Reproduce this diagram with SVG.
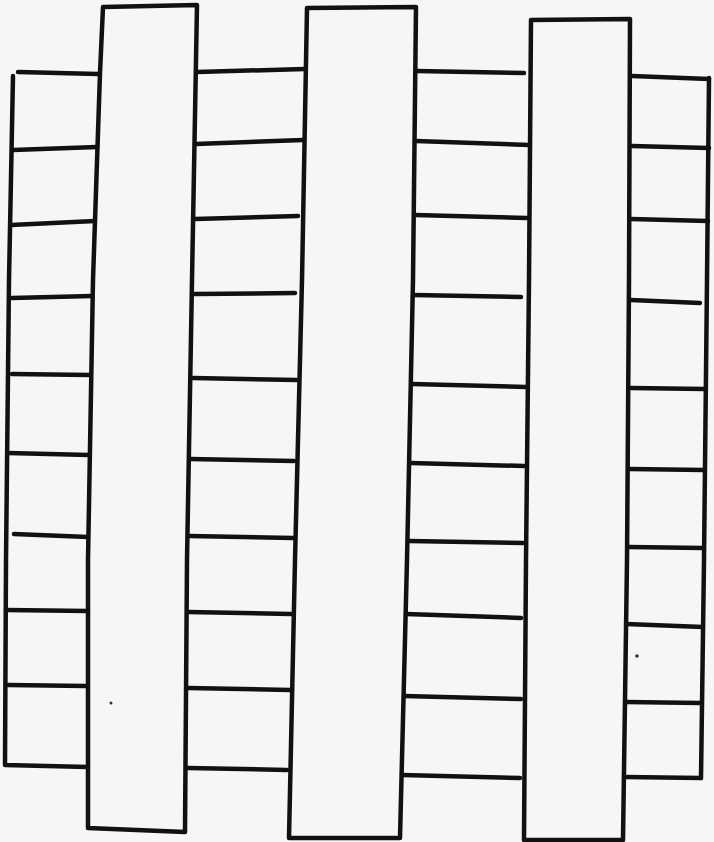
<svg xmlns="http://www.w3.org/2000/svg" width="714" height="842" viewBox="0 0 714 842">
<style>
.s{fill:none;stroke:#111;stroke-width:4.5;stroke-linecap:round;stroke-linejoin:round}
.d{fill:#333}
</style>
<rect width="714" height="842" fill="#f6f6f6"/>
<g id="column1"><polygon class="s" points="103,7 197,5 192,280 187,560 185,832 88,828 88,560 93,280 100,73"/></g>
<g id="column2"><polygon class="s" points="307,8 416,7 413,280 407,560 400,838 289,838 295,560 302,280"/></g>
<g id="column3"><polygon class="s" points="531,20 630,19 629,280 627,560 623,840 524,840 526,560 529,280"/></g>
<g id="ladder-left">
<polyline class="s" points="13,76 9,280 6,560 5,765 88,767"/>
<line class="s" x1="18" y1="72" x2="98" y2="74"/>
<line class="s" x1="13" y1="150" x2="97" y2="147"/>
<line class="s" x1="11" y1="225" x2="95" y2="221"/>
<line class="s" x1="12" y1="298" x2="92" y2="296"/>
<line class="s" x1="12" y1="374" x2="90" y2="375"/>
<line class="s" x1="8" y1="453" x2="89" y2="455"/>
<line class="s" x1="14" y1="534" x2="88" y2="537"/>
<line class="s" x1="6" y1="610" x2="88" y2="611"/>
<line class="s" x1="8" y1="685" x2="86" y2="686"/>
</g>
<g id="ladder-middle">
<line class="s" x1="197" y1="72" x2="305" y2="69"/>
<line class="s" x1="196" y1="144" x2="303" y2="140"/>
<line class="s" x1="195" y1="219" x2="298" y2="216"/>
<line class="s" x1="194" y1="294" x2="295" y2="293"/>
<line class="s" x1="193" y1="378" x2="297" y2="380"/>
<line class="s" x1="190" y1="459" x2="294" y2="461"/>
<line class="s" x1="189" y1="536" x2="293" y2="538"/>
<line class="s" x1="188" y1="612" x2="291" y2="614"/>
<line class="s" x1="188" y1="688" x2="290" y2="690"/>
<line class="s" x1="188" y1="768" x2="287" y2="770"/>
</g>
<g id="ladder-right-middle">
<line class="s" x1="417" y1="71" x2="524" y2="73"/>
<line class="s" x1="416" y1="141" x2="529" y2="145"/>
<line class="s" x1="415" y1="215" x2="527" y2="218"/>
<line class="s" x1="413" y1="295" x2="521" y2="297"/>
<line class="s" x1="412" y1="384" x2="526" y2="387"/>
<line class="s" x1="411" y1="463" x2="524" y2="466"/>
<line class="s" x1="409" y1="541" x2="523" y2="543"/>
<line class="s" x1="406" y1="614" x2="521" y2="618"/>
<line class="s" x1="404" y1="696" x2="521" y2="699"/>
<line class="s" x1="402" y1="775" x2="520" y2="778"/>
</g>
<g id="ladder-right">
<polyline class="s" points="709,78 707,280 704,560 701,778"/>
<line class="s" x1="632" y1="76" x2="709" y2="79"/>
<line class="s" x1="632" y1="146" x2="709" y2="148"/>
<line class="s" x1="631" y1="219" x2="708" y2="221"/>
<line class="s" x1="631" y1="300" x2="700" y2="303"/>
<line class="s" x1="631" y1="388" x2="705" y2="389"/>
<line class="s" x1="630" y1="469" x2="704" y2="470"/>
<line class="s" x1="629" y1="547" x2="703" y2="548"/>
<line class="s" x1="626" y1="624" x2="703" y2="627"/>
<line class="s" x1="626" y1="702" x2="701" y2="703"/>
<line class="s" x1="625" y1="777" x2="701" y2="778"/>
</g>
<circle class="d" cx="111" cy="703" r="1.5"/>
<circle class="d" cx="637" cy="656" r="1.8"/>
</svg>
